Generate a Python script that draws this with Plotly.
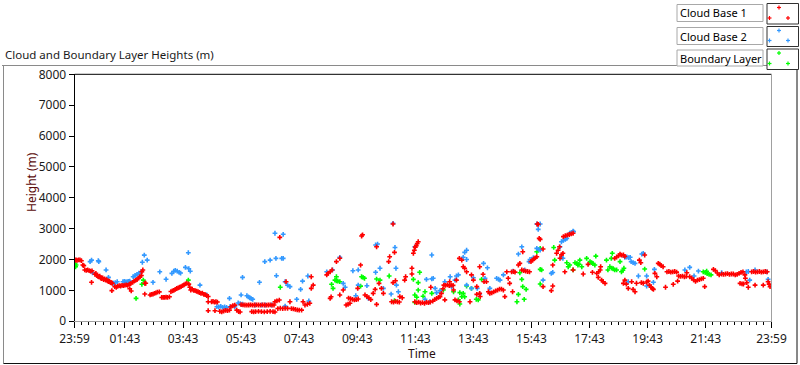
import plotly.graph_objects as go

# ---------------- data (time = minutes after 23:59, height in m) ----------------
time_tick_minutes = [0, 104, 224, 344, 464, 584, 704, 824, 944, 1064, 1184, 1304, 1440]
time_tick_labels = ["23:59", "01:43", "03:43", "05:43", "07:43", "09:43", "11:43",
                    "13:43", "15:43", "17:43", "19:43", "21:43", "23:59"]
height_ticks = [0, 1000, 2000, 3000, 4000, 5000, 6000, 7000, 8000]

cloud_base_1 = [
    (1, 1980), (3, 1990), (5, 1970), (8, 1990), (11, 1985), (14, 1960), (17, 1820), (19, 1800),
    (21, 1660), (24, 1650), (27, 1660), (30, 1640), (33, 1620), (36, 1630), (35, 1260),
    (42, 1520), (44, 1550), (46, 1480), (48, 1450), (50, 1440), (52, 1460), (54, 1400), (56, 1380),
    (58, 1400), (60, 1350), (62, 1370), (64, 1330), (66, 1350), (68, 1310), (70, 1280), (72, 1300),
    (74, 1250), (76, 1240), (78, 1230), (77, 990), (83, 1120), (86, 1100), (89, 1130), (92, 1150),
    (95, 1140), (98, 1160), (101, 1150), (104, 1170), (107, 1180), (110, 1160), (113, 1200),
    (116, 1220), (114, 1050), (117, 980), (120, 1260), (123, 1300), (126, 1320), (129, 1350),
    (132, 1400), (135, 1440), (138, 1480), (139, 1600), (141, 1660), (145, 1230), (147, 1230),
    (145, 880), (156, 850), (159, 870), (162, 880), (165, 900), (168, 920), (171, 940), (175, 950),
    (180, 770), (183, 775), (186, 770), (189, 780), (192, 775), (196, 790), (199, 960), (202, 980),
    (205, 1000), (208, 1030), (211, 1060), (214, 1080), (217, 1100), (220, 1120), (223, 1150),
    (226, 1180), (229, 1210), (232, 1230), (236, 1200), (238, 1100), (240, 1010), (243, 1040),
    (246, 1000), (249, 990), (252, 970), (255, 955), (258, 930), (261, 900), (264, 910), (267, 870),
    (270, 860), (273, 830), (276, 800), (276, 630), (276, 340), (290, 340), (283, 630), (286, 640),
    (289, 620), (292, 630), (295, 620), (300, 320), (304, 300), (308, 330), (312, 350), (316, 340),
    (320, 360), (323, 470), (327, 500), (331, 520), (335, 360), (339, 310), (342, 300),
    (344, 540), (348, 530), (352, 525), (356, 520), (360, 525), (364, 530), (368, 520), (372, 525),
    (376, 530), (380, 525), (384, 520), (388, 530), (392, 525), (396, 520), (400, 525), (404, 530),
    (408, 520), (412, 525), (366, 310), (370, 300), (374, 310), (380, 320), (386, 310), (392, 300),
    (398, 310), (404, 320), (410, 310), (414, 300), (414, 630), (418, 660), (423, 685), (424, 2717),
    (420, 410), (425, 420), (430, 410), (435, 420), (440, 415), (445, 630), (448, 410), (452, 400),
    (456, 380), (460, 370), (464, 360), (469, 360), (472, 630), (476, 525), (481, 550), (486, 580),
    (489, 1440), (493, 1170), (489, 1065), (437, 1280), (521, 1500), (524, 1560), (528, 1600),
    (532, 1660), (541, 1930), (548, 2040), (528, 740), (530, 790), (548, 850), (555, 1010),
    (561, 525), (565, 550), (569, 580), (566, 750), (570, 730), (574, 710), (578, 690), (582, 700),
    (586, 720), (585, 1065), (591, 1820), (593, 2760), (595, 2800), (600, 850), (604, 800),
    (608, 760), (612, 700), (617, 900), (621, 1030), (624, 545), (624, 2410), (629, 1227),
    (634, 1065), (638, 900), (649, 1930), (651, 2090), (658, 3150), (661, 2230), (658, 1250),
    (663, 1310), (655, 630), (659, 620), (663, 640), (667, 630), (671, 620), (672, 795), (677, 760),
    (684, 1440), (682, 1330), (697, 1715), (697, 1530), (700, 2200), (702, 2300), (704, 2400),
    (706, 2450), (708, 2520), (710, 2575), (703, 630), (707, 600), (711, 620), (715, 590), (719, 600),
    (723, 580), (727, 610), (731, 600), (735, 620), (736, 1100), (740, 650), (744, 700), (748, 740),
    (752, 770), (755, 795), (758, 900), (761, 1050), (763, 1170), (766, 1160), (770, 1180),
    (774, 1150), (778, 1170), (782, 1160), (775, 1280), (783, 1010), (765, 690), (786, 690),
    (790, 660), (795, 630), (789, 1330), (795, 2037), (800, 1980), (803, 1765), (806, 1715),
    (810, 1600), (817, 630), (820, 1500), (824, 1330), (831, 1120), (831, 870), (837, 900),
    (838, 800), (837, 1765), (844, 1520), (846, 1280), (851, 1280), (855, 955), (858, 900),
    (862, 920), (866, 950), (870, 980), (874, 1010), (878, 1040), (882, 1040), (886, 1010),
    (889, 795), (893, 1600), (896, 1390), (899, 1227), (905, 955), (903, 1600), (907, 1610),
    (910, 1590), (917, 1820), (920, 1875), (926, 2250), (924, 1660), (928, 1640), (932, 1620),
    (936, 1610), (940, 1600), (943, 1930), (946, 1980), (949, 2020), (952, 2050), (955, 2090),
    (956, 3150), (958, 3140), (960, 2685), (962, 2650), (968, 2340), (968, 1120), (985, 990),
    (988, 1140), (988, 1820), (996, 2200), (999, 2300), (1002, 2410), (1003, 2040), (1006, 2150),
    (1009, 2200), (1010, 2740), (1014, 2770), (1018, 2790), (1022, 2810), (1026, 2830),
    (1030, 2850), (1013, 1600), (1030, 1660), (1051, 1530), (1061, 1840), (1070, 1585),
    (1079, 1550), (1083, 1600), (1086, 1660), (1082, 1420), (1087, 1765), (1089, 1330),
    (1092, 1280), (1096, 1227), (1116, 2037), (1120, 2080), (1124, 2120), (1127, 2175),
    (1130, 2140), (1134, 2145), (1137, 2100), (1134, 1227), (1137, 1330), (1140, 1200),
    (1144, 1065), (1151, 1280), (1154, 1030), (1158, 955), (1161, 1230), (1167, 1980),
    (1170, 1895), (1171, 1250), (1175, 1230), (1178, 2145), (1182, 1270), (1185, 1300),
    (1188, 1170), (1191, 1100), (1194, 1060), (1196, 1030), (1199, 1550), (1203, 1440),
    (1206, 1875), (1209, 1850), (1212, 1800), (1216, 1765), (1221, 1100), (1224, 1600),
    (1228, 1610), (1232, 1590), (1236, 1600), (1240, 1610), (1244, 1590), (1237, 1195),
    (1246, 1300), (1248, 1465), (1252, 1450), (1256, 1460), (1260, 1440), (1264, 1450),
    (1265, 1570), (1271, 1440), (1275, 1400), (1279, 1340), (1283, 1290), (1287, 1330),
    (1291, 1350), (1295, 1370), (1299, 1390), (1302, 1120), (1320, 1680), (1324, 1640),
    (1328, 1560), (1332, 1500), (1337, 1530), (1341, 1520), (1345, 1530), (1349, 1540),
    (1353, 1520), (1357, 1530), (1361, 1530), (1365, 1500), (1369, 1520), (1373, 1550),
    (1377, 1580), (1381, 1600), (1375, 1227), (1379, 1210), (1382, 1205), (1385, 1500),
    (1386, 1390), (1389, 1250), (1392, 1100), (1399, 1600), (1403, 1610), (1407, 1590),
    (1411, 1600), (1415, 1610), (1419, 1590), (1423, 1600), (1427, 1610), (1431, 1600),
    (1406, 1170), (1423, 1170), (1433, 1280), (1435, 1200), (1437, 1120),
]

cloud_base_2 = [
    (32, 1930), (35, 1980), (49, 1960), (50, 1930), (37, 1570), (65, 1660), (70, 1420),
    (80, 1230), (84, 1250), (88, 1280), (100, 1280), (103, 1290), (106, 1270), (109, 1280),
    (112, 1290), (114, 1300), (121, 1440), (125, 1480), (129, 1520), (133, 1560), (137, 1600),
    (144, 2140), (140, 1910), (150, 1980), (162, 1260), (176, 1600), (189, 1360), (201, 1550),
    (205, 1620), (208, 1650), (212, 1620), (216, 1580), (219, 1560), (229, 1745), (235, 2220),
    (236, 1700), (239, 1620), (259, 1170), (273, 850), (294, 470), (298, 460), (302, 480),
    (306, 450), (310, 460), (314, 450), (320, 740), (331, 470), (414, 2850), (431, 2815),
    (393, 1930), (404, 1980), (416, 2037), (428, 2037), (431, 2037), (347, 1420), (382, 1260),
    (417, 1475), (435, 1280), (440, 1170), (445, 1120), (467, 1030), (471, 1300), (482, 1465),
    (459, 710), (484, 655), (344, 850), (356, 825), (359, 790), (362, 760), (365, 730), (368, 710),
    (338, 590), (342, 570), (347, 550), (321, 470), (373, 525), (387, 525), (394, 525), (407, 525),
    (435, 490), (521, 1600), (533, 1660), (548, 2070), (555, 1227), (559, 1100), (575, 1635),
    (581, 825), (586, 1660), (586, 1170), (604, 1150), (607, 740), (622, 2470), (626, 2500),
    (622, 1585), (631, 1715), (638, 1065), (658, 3170), (662, 2390), (664, 1715), (665, 1170),
    (669, 955), (654, 880), (703, 2410), (738, 2145), (727, 1355), (738, 1370), (741, 1390),
    (745, 1065), (748, 925), (755, 990), (724, 710), (734, 630), (765, 1280), (779, 1120),
    (776, 1440), (786, 1330), (789, 1465), (793, 1500), (803, 2070), (806, 2230), (810, 2300),
    (810, 2000), (810, 1170), (820, 1065), (824, 1410), (832, 1065), (837, 880), (845, 1875),
    (848, 1390), (853, 1730), (858, 1065), (872, 1390), (876, 1360), (879, 1330), (886, 1500),
    (906, 1620), (917, 2175), (924, 2410), (930, 1660), (939, 1930), (941, 2000), (948, 2060),
    (955, 2360), (959, 2330), (962, 2300), (955, 3150), (962, 3150), (958, 2975), (968, 1330),
    (985, 1550), (988, 1580), (1003, 2410), (1006, 2575), (1010, 2620), (1014, 2650),
    (1017, 2685), (1023, 2850), (1027, 2880), (1030, 2920), (1031, 2900), (1006, 2070),
    (1009, 2040), (1137, 2070), (1141, 2080), (1145, 2060), (1148, 2070), (1150, 1930),
    (1154, 1900), (1158, 1875), (1144, 1280), (1165, 1465), (1172, 2175), (1175, 2200),
    (1182, 1465), (1182, 1140), (1198, 1680), (1196, 1260), (1261, 1660), (1271, 1745),
    (1280, 1465), (1289, 1625), (1337, 1570), (1388, 1600), (1392, 1610), (1406, 1660),
    (1395, 1330), (1430, 1600), (1433, 1355),
]

boundary_layer = [
    (1, 1870), (3, 1820), (2, 1765), (142, 1330), (139, 1195), (127, 740), (235, 1330),
    (425, 1100), (541, 1440), (538, 1330), (541, 1310), (544, 1300), (548, 1280), (531, 1195),
    (534, 1065), (593, 1440), (596, 1420), (599, 1390), (591, 1135), (624, 1365), (631, 1330),
    (650, 1465), (661, 665), (700, 1355), (713, 1585), (710, 1250), (710, 1010), (703, 850),
    (707, 775), (703, 610), (724, 955), (720, 810), (738, 900), (762, 1010), (783, 955),
    (796, 925), (800, 795), (796, 555), (793, 690), (803, 900), (806, 790), (810, 1140),
    (820, 1065), (830, 710), (834, 690), (841, 1355), (917, 870), (920, 1570), (924, 1355),
    (926, 1120), (929, 710), (933, 1030), (914, 630), (955, 2250), (958, 2300), (962, 2360),
    (962, 1680), (965, 1660), (962, 1205), (990, 2390), (992, 1980), (1017, 1895), (1020, 1765),
    (1023, 1820), (1030, 1660), (1034, 1895), (1038, 1870), (1042, 1850), (1044, 1980),
    (1040, 1820), (1048, 1765), (1058, 2037), (1065, 1930), (1068, 1900), (1071, 1870),
    (1075, 1820), (1077, 2110), (1099, 1980), (1102, 1660), (1106, 1765), (1110, 1720),
    (1113, 1700), (1116, 1660), (1109, 2037), (1111, 2200), (1120, 1660), (1127, 1930),
    (1130, 1600), (1133, 1650), (1135, 1715), (1178, 1690), (1299, 1600), (1303, 1580),
    (1307, 1540), (1311, 1520), (1315, 1500), (1306, 1620),
]

series = [
    ("Boundary Layer", boundary_layer, "#00ff00"),
    ("Cloud Base 2", cloud_base_2, "#3399ff"),
    ("Cloud Base 1", cloud_base_1, "#ff0000"),
]

# ---------------- figure ----------------
W, H = 800, 365
FONT = "Segoe UI, Noto Sans, sans-serif"


def px(x):
    return x / W


def py(y):
    return 1 - y / H


fig = go.Figure()
for name, pts, color in series:
    fig.add_trace(go.Scatter(
        x=[p[0] for p in pts], y=[p[1] for p in pts], mode="markers", name=name,
        marker=dict(symbol="cross", size=4.0, color=color, line=dict(width=0)),
        showlegend=False,
    ))

X0, X1, Y0, Y1 = 74.6, 771.5, 74.3, 321.2

fig.update_layout(
    width=W, height=H, margin=dict(l=0, r=0, t=0, b=0, pad=0, autoexpand=False),
    showlegend=False,
    paper_bgcolor="white", plot_bgcolor="white",
    font=dict(family=FONT, size=12, color="#1a1a1a"),
    xaxis=dict(
        domain=[px(X0), px(X1)], range=[0, 1440], showgrid=False, zeroline=False,
        automargin=False,
        showline=True, linecolor="#a0a0a0", linewidth=1,
        tickmode="array", tickvals=time_tick_minutes, ticktext=time_tick_labels,
        ticks="outside", ticklen=6, tickcolor="black", tickwidth=1,
        tickfont=dict(size=12, color="#1a1a1a"),
        minor=dict(ticks="outside", tick0=104, dtick=15, ticklen=3,
                   tickcolor="black", tickwidth=1, showgrid=False),
    ),
    yaxis=dict(
        domain=[py(Y1), py(Y0)], range=[0, 8000], showgrid=False, zeroline=False,
        automargin=False,
        showline=True, linecolor="black", linewidth=1,
        tickmode="array", tickvals=height_ticks, ticks="outside", ticklen=5,
        tickcolor="black", tickwidth=1, tickfont=dict(size=12, color="#1a1a1a"),
    ),
)

shapes = []
# plot frame: top black, right grey
shapes.append(dict(type="line", xref="x domain", yref="y domain", x0=0, x1=1, y0=1, y1=1,
                   line=dict(color="black", width=1)))
shapes.append(dict(type="line", xref="x domain", yref="y domain", x0=1, x1=1, y0=0, y1=1,
                   line=dict(color="#a0a0a0", width=1)))


def pline(x0, y0, x1, y1, color):
    shapes.append(dict(type="line", xref="paper", yref="paper", x0=px(x0), x1=px(x1),
                       y0=py(y0), y1=py(y1), line=dict(color=color, width=1)))


# outer sunken frame
pline(2, 65.5, 767, 65.5, "#8a8a8a")
pline(3.5, 65.5, 3.5, 363.5, "#8a8a8a")
pline(3.5, 363.5, 797, 363.5, "#101010")
pline(797, 68, 797, 363.5, "#101010")

# legend boxes
legend_rows = [("Cloud Base 1", "#ff0000", 4.5, 21.5, 3.5, 24),
               ("Cloud Base 2", "#3399ff", 27.5, 44.5, 26.5, 46.5),
               ("Boundary Layer", "#00ff00", 50, 66, 49, 69.5)]
annotations = []
for label, color, ty0, ty1, my0, my1 in legend_rows:
    shapes.append(dict(type="rect", xref="paper", yref="paper", x0=px(677), x1=px(763),
                       y0=py(ty1), y1=py(ty0), line=dict(color="#a8a8a8", width=1),
                       fillcolor="white"))
    shapes.append(dict(type="rect", xref="paper", yref="paper", x0=px(767), x1=px(798.5),
                       y0=py(my1), y1=py(my0), line=dict(color="#303030", width=1),
                       fillcolor="white"))
    annotations.append(dict(text=label, xref="paper", yref="paper", x=px(678), y=py((ty0 + ty1) / 2),
                            xanchor="left", yanchor="middle", showarrow=False,
                            font=dict(family=FONT, size=11, color="black")))
    # swatch plus-signs
    for sx, sy in [(779, my0 + 4), (769.5, my1 - 6), (788, my1 - 6)]:
        shapes.append(dict(type="line", xref="paper", yref="paper", x0=px(sx - 2), x1=px(sx + 2),
                           y0=py(sy), y1=py(sy), line=dict(color=color, width=1.2)))
        shapes.append(dict(type="line", xref="paper", yref="paper", x0=px(sx), x1=px(sx),
                           y0=py(sy - 2), y1=py(sy + 2), line=dict(color=color, width=1.2)))

annotations.append(dict(text="Cloud and Boundary Layer Heights (m)", xref="paper", yref="paper",
                        x=px(3), y=py(55), xanchor="left", yanchor="middle", showarrow=False,
                        font=dict(family=FONT, size=11.5, color="#1a1a1a")))
annotations.append(dict(text="Height (m)", xref="paper", yref="paper", x=px(32), y=py(182),
                        xanchor="center", yanchor="middle", textangle=-90, showarrow=False,
                        font=dict(family=FONT, size=12, color="#5a0a0a")))
annotations.append(dict(text="Time", xref="paper", yref="paper", x=px(422), y=py(353),
                        xanchor="center", yanchor="middle", showarrow=False,
                        font=dict(family=FONT, size=12, color="#2a1010")))

fig.update_layout(shapes=shapes, annotations=annotations)
fig.write_html("out.html", config={"displayModeBar": False, "staticPlot": True},
               post_script="document.body.style.margin='0px';document.body.style.overflow='hidden';")
